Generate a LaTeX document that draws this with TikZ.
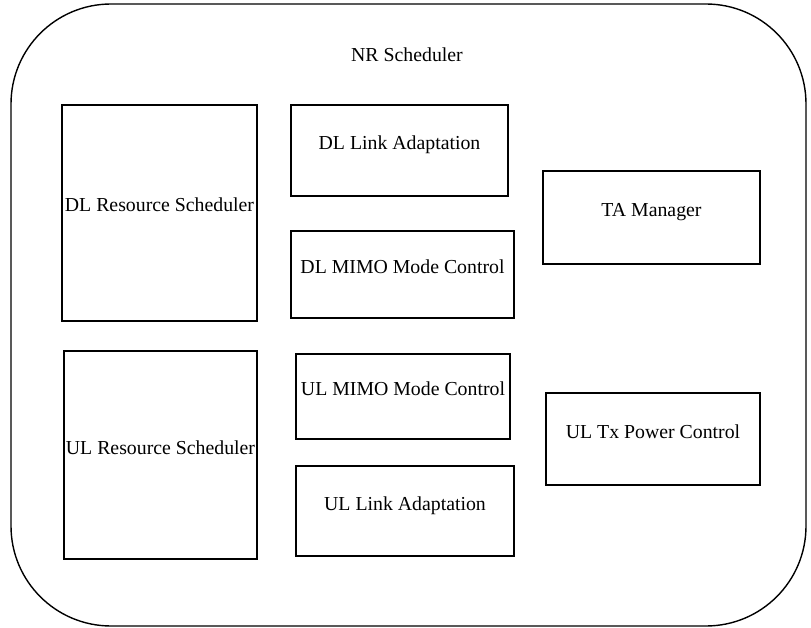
\documentclass[tikz,border=0pt]{standalone}
\usepackage{fontspec}
\setmainfont{Liberation Serif}
\usepackage{tikz}

\tikzset{
  blk/.style={draw, line width=1.4pt, inner sep=0pt, text height=14pt, text depth=16pt,
    font=\fontsize{19.8}{23}\selectfont}
}

\begin{document}
\begin{tikzpicture}[x=1pt,y=-1pt]
\useasboundingbox (0,0) rectangle (811,628);
\draw[line width=1.4pt, rounded corners=100pt] (11,4) rectangle (806,626);
\node (nrs) [font=\fontsize{19.8}{23}\selectfont] at (407,55) {NR Scheduler};

\node (dlrs) [blk, minimum width=195pt, minimum height=216pt] at (159.5,213) {DL Resource Scheduler};
\node (dlla) [blk, minimum width=217pt, minimum height=91pt] at (399.5,150.5) {DL Link Adaptation};
\node (dlmimo) [blk, minimum width=223pt, minimum height=87pt] at (402.5,274.5) {DL MIMO Mode Control};
\node (ta) [blk, minimum width=217pt, minimum height=93pt] at (651.5,217.5) {TA Manager};

\node (ulrs) [blk, minimum width=193pt, minimum height=208pt] at (160.5,455) {UL Resource Scheduler};
\node (ulmimo) [blk, minimum width=214pt, minimum height=85pt] at (403,396.5) {UL MIMO Mode Control};
\node (ulla) [blk, minimum width=218pt, minimum height=90pt] at (405,511) {UL Link Adaptation};
\node (ultx) [blk, minimum width=214pt, minimum height=92pt] at (653,439) {UL Tx Power Control};
\end{tikzpicture}
\end{document}
